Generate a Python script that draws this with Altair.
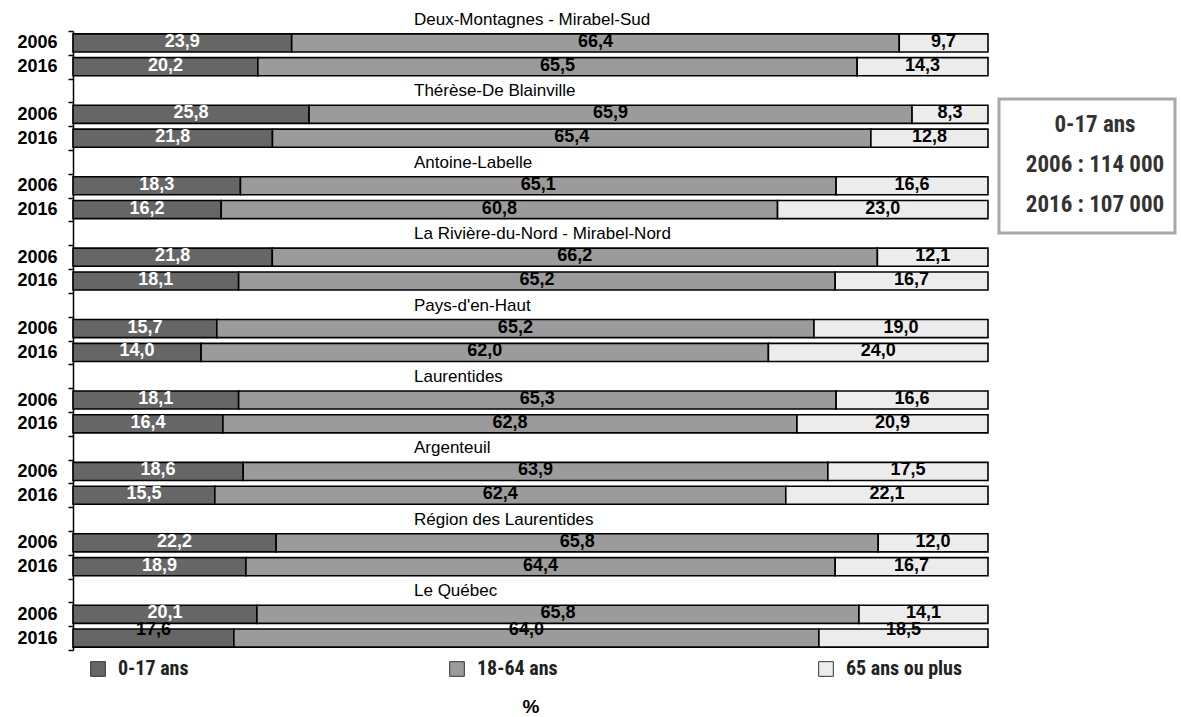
import altair as alt
import pandas as pd

# Population by age group (%), 2006 and 2016, Laurentides territories
groups = [
    "Deux-Montagnes - Mirabel-Sud",
    "Thérèse-De Blainville",
    "Antoine-Labelle",
    "La Rivière-du-Nord - Mirabel-Nord",
    "Pays-d'en-Haut",
    "Laurentides",
    "Argenteuil",
    "Région des Laurentides",
    "Le Québec",
]
years = ["2006", "2016"]
segments = ["0-17 ans", "18-64 ans", "65 ans ou plus"]
segment_colors = ["#666666", "#9b9b9b", "#ececec"]

age_0_17_2006 = [23.9, 25.8, 18.3, 21.8, 15.7, 18.1, 18.6, 22.2, 20.1]
age_18_64_2006 = [66.4, 65.9, 65.1, 66.2, 65.2, 65.3, 63.9, 65.8, 65.8]
age_65_2006 = [9.7, 8.3, 16.6, 12.1, 19.0, 16.6, 17.5, 12.0, 14.1]

age_0_17_2016 = [20.2, 21.8, 16.2, 18.1, 14.0, 16.4, 15.5, 18.9, 17.6]
age_18_64_2016 = [65.5, 65.4, 60.8, 65.2, 62.0, 62.8, 62.4, 64.4, 64.0]
age_65_2016 = [14.3, 12.8, 23.0, 16.7, 24.0, 20.9, 22.1, 16.7, 18.5]

box_lines = ["0-17 ans", "2006 : 114 000", "2016 : 107 000"]

series = {
    "2006": [age_0_17_2006, age_18_64_2006, age_65_2006],
    "2016": [age_0_17_2016, age_18_64_2016, age_65_2016],
}

# One band per year bar, plus an empty band between groups for the group name
slots = []
for i, g in enumerate(groups):
    slots += [f"{i}|2006", f"{i}|2016"]
    if i < len(groups) - 1:
        slots.append(f"{i}|gap")

rows = []
for i, g in enumerate(groups):
    for y in years:
        for k, seg in enumerate(segments):
            rows.append({"slot": f"{i}|{y}", "groupe": g, "annee": y,
                         "segment": seg, "ordre": k, "value": series[y][k][i]})
df = pd.DataFrame(rows)
titles = pd.DataFrame({"slot": [f"{i}|2006" for i in range(len(groups))], "titre": groups})
box_df = pd.DataFrame({"t": ["\n".join(box_lines)]})

last_2016 = f"{len(groups) - 1}|2016"

FONT = "Liberation Sans"
NARROW = "Liberation Sans Narrow, Roboto Condensed, Roboto"

y_enc = alt.Y(
    "slot:N",
    scale=alt.Scale(domain=slots, paddingInner=0, paddingOuter=0),
    title=None,
    axis=alt.Axis(
        labelExpr="isString(datum.value) ? (indexof(datum.value,'|2006')>=0 ? '2006' : (indexof(datum.value,'|2016')>=0 ? '2016' : '')) : ''",
        tickBand="extent",
        tickSize=5,
        tickColor="black",
        tickWidth=1.5,
        domainColor="black",
        domainWidth=1.5,
        labelFont=FONT,
        labelFontWeight="bold",
        labelFontSize=18,
        labelColor="black",
        labelPadding=11,
        grid=False,
    ),
)

x_scale = alt.Scale(domain=[0, 1], nice=False, zero=True)
x_axis = alt.Axis(labels=False, ticks=False, domain=False, grid=False,
                  title="%", titleFont=FONT, titleFontWeight="bold",
                  titleFontSize=19, titleColor="black", titlePadding=47)

base = alt.Chart(df).transform_stack(
    stack="value",
    groupby=["slot"],
    as_=["x0", "x1"],
    offset="normalize",
    sort=[alt.SortField("ordre", order="ascending")],
).transform_calculate(
    mid="(datum.x0 + datum.x1) / 2",
    label="replace(format(datum.value, '.1f'), '.', ',')",
)

bars = base.mark_bar(
    height=alt.RelativeBandSize(0.76), stroke="black", strokeWidth=1.6
).encode(
    x=alt.X("x0:Q", scale=x_scale, axis=x_axis),
    x2="x1:Q",
    y=y_enc,
    color=alt.Color(
        "segment:N",
        scale=alt.Scale(domain=segments, range=segment_colors),
        legend=alt.Legend(
            title=None,
            orient="none",
            direction="horizontal",
            legendX=15,
            legendY=628,
            columnPadding=258,
            symbolType="square",
            symbolSize=215,
            symbolStrokeColor="#333333",
            symbolStrokeWidth=1,
            labelFont=NARROW,
            labelFontSize=20,
            labelFontWeight="bold",
            labelColor="#222222",
            labelOffset=10,
            padding=0,
        ),
    ),
)

labels = base.transform_filter(f"datum.slot != '{last_2016}'").mark_text(
    font=FONT, fontWeight="bold", fontSize=18, baseline="middle", dy=-1
).encode(
    x=alt.X("mid:Q", scale=x_scale),
    y=alt.Y("slot:N"),
    text="label:N",
    color=alt.condition("datum.ordre == 0", alt.value("white"), alt.value("black")),
)

# Last row's labels sit higher and are all in black
labels_last = base.transform_filter(f"datum.slot == '{last_2016}'").mark_text(
    font=FONT, fontWeight="bold", fontSize=18, baseline="middle", dy=-8, color="black"
).encode(
    x=alt.X("mid:Q", scale=x_scale),
    y=alt.Y("slot:N"),
    text="label:N",
)

group_titles = alt.Chart(titles).mark_text(
    font=FONT, fontSize=17, align="left", baseline="middle", dy=-23, color="black"
).encode(
    x=alt.value(341),
    y=alt.Y("slot:N"),
    text="titre:N",
)

box = alt.Chart(box_df).mark_rect(
    fill="white", stroke="#a8a8a8", strokeWidth=3
).encode(
    x=alt.value(926), x2=alt.value(1102), y=alt.value(68), y2=alt.value(202)
)

box_text = alt.Chart(box_df).mark_text(
    font=NARROW, fontSize=23, fontWeight="bold", color="#333333",
    lineBreak="\n", lineHeight=40, baseline="middle", align="center"
).encode(
    x=alt.value(1022), y=alt.value(94), text="t:N"
)

chart = alt.layer(bars, labels, labels_last, group_titles, box, box_text).properties(
    width=915,
    height=619,
    autosize=alt.AutoSizeParams(type="none"),
    padding={"left": 73, "top": 31, "right": 193, "bottom": 67},
).configure_view(stroke=None)

chart.save("out.html", embed_options={"renderer": "svg", "actions": False})
